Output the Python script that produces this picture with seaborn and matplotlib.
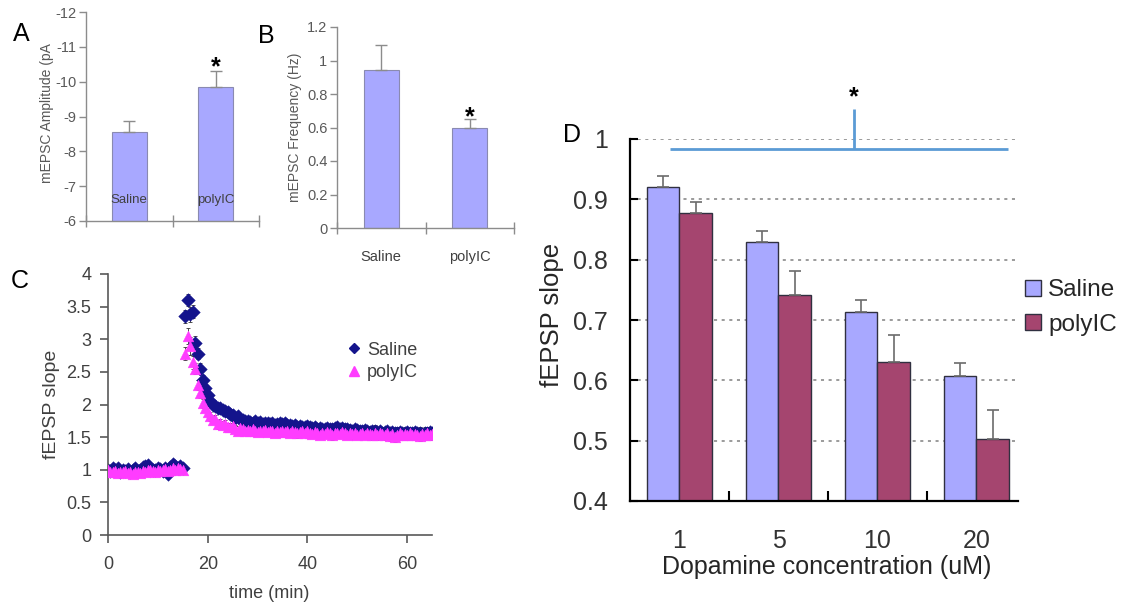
import numpy as np
import pandas as pd
import matplotlib
matplotlib.use("Agg")
import matplotlib.pyplot as plt
from matplotlib.patches import Patch
from matplotlib.lines import Line2D
import seaborn as sns

sns.set_theme(style="white")
plt.rcParams['font.family'] = ['Liberation Sans', 'DejaVu Sans']
plt.rcParams['axes.unicode_minus'] = False

# ---------------- data ----------------
# Panel A: mEPSC amplitude
a_groups = ["Saline", "polyIC"]
a_amp = [-8.55, -9.85]
a_err = [0.33, 0.45]

# Panel B: mEPSC frequency
b_groups = ["Saline", "polyIC"]
b_freq = [0.945, 0.60]
b_err = [0.15, 0.05]

# Panel C: fEPSP slope time course
c_time_base = [0, 0.5, 1, 1.5, 2, 2.5, 3, 3.5, 4, 4.5,
               5, 5.5, 6, 6.5, 7, 7.5, 8, 8.5, 9, 9.5,
               10, 10.5, 11, 11.5, 12, 12.5, 13, 13.5, 14, 14.5,
               15]
c_time_post = [15.5, 16, 16.5, 17, 17.5, 18, 18.5, 19, 19.5, 20,
               20.5, 21, 21.5, 22, 22.5, 23, 23.5, 24, 24.5, 25,
               25.5, 26, 26.5, 27, 27.5, 28, 28.5, 29, 29.5, 30,
               30.5, 31, 31.5, 32, 32.5, 33, 33.5, 34, 34.5, 35,
               35.5, 36, 36.5, 37, 37.5, 38, 38.5, 39, 39.5, 40,
               40.5, 41, 41.5, 42, 42.5, 43, 43.5, 44, 44.5, 45,
               45.5, 46, 46.5, 47, 47.5, 48, 48.5, 49, 49.5, 50,
               50.5, 51, 51.5, 52, 52.5, 53, 53.5, 54, 54.5, 55,
               55.5, 56, 56.5, 57, 57.5, 58, 58.5, 59, 59.5, 60,
               60.5, 61, 61.5, 62, 62.5, 63, 63.5, 64, 64.5, 65]

c_saline_base = [1.00, 0.98, 1.02, 0.99, 1.03, 0.97, 1.00, 0.98, 1.01, 0.97,
                 0.99, 1.02, 0.98, 1.00, 1.04, 1.06, 1.08, 1.03, 1.00, 0.99,
                 1.03, 1.01, 0.98, 1.02, 0.93, 1.04, 1.09, 1.06, 1.02, 1.05,
                 1.03]
c_saline_post = [3.35, 3.60, 3.38, 3.42, 2.95, 2.78, 2.55, 2.38, 2.25, 2.15,
                 2.06, 2.00, 1.97, 1.95, 1.94, 1.92, 1.90, 1.88, 1.86, 1.84,
                 1.80, 1.82, 1.78, 1.76, 1.74, 1.75, 1.73, 1.72, 1.74, 1.71,
                 1.73, 1.70, 1.71, 1.72, 1.70, 1.71, 1.69, 1.70, 1.72, 1.70,
                 1.71, 1.68, 1.69, 1.67, 1.68, 1.66, 1.67, 1.66, 1.65, 1.67,
                 1.65, 1.64, 1.65, 1.63, 1.64, 1.62, 1.63, 1.64, 1.62, 1.63,
                 1.64, 1.65, 1.63, 1.64, 1.62, 1.63, 1.61, 1.60, 1.62, 1.61,
                 1.60, 1.59, 1.61, 1.60, 1.58, 1.59, 1.60, 1.58, 1.59, 1.57,
                 1.58, 1.59, 1.57, 1.58, 1.56, 1.57, 1.58, 1.56, 1.57, 1.58,
                 1.56, 1.57, 1.58, 1.56, 1.57, 1.55, 1.57, 1.56, 1.58, 1.57]
c_polyic_base = [1.00, 0.97, 0.96, 0.98, 0.95, 0.97, 0.96, 0.98, 0.95, 0.97,
                 0.94, 0.97, 0.96, 0.95, 0.98, 0.97, 0.99, 1.00, 0.98, 0.97,
                 1.00, 0.98, 0.99, 1.01, 0.98, 0.99, 1.02, 1.00, 1.03, 1.01,
                 1.00]
c_polyic_post = [2.78, 3.05, 2.90, 2.65, 2.55, 2.30, 2.18, 2.02, 1.95, 1.88,
                 1.82, 1.76, 1.78, 1.70, 1.72, 1.68, 1.70, 1.66, 1.65, 1.67,
                 1.63, 1.60, 1.64, 1.62, 1.60, 1.61, 1.59, 1.62, 1.60, 1.58,
                 1.60, 1.59, 1.61, 1.58, 1.60, 1.59, 1.57, 1.60, 1.58, 1.59,
                 1.58, 1.60, 1.57, 1.59, 1.58, 1.56, 1.58, 1.60, 1.57, 1.59,
                 1.57, 1.55, 1.58, 1.56, 1.54, 1.57, 1.55, 1.58, 1.56, 1.53,
                 1.56, 1.57, 1.55, 1.58, 1.56, 1.54, 1.57, 1.55, 1.56, 1.54,
                 1.55, 1.57, 1.54, 1.56, 1.55, 1.53, 1.56, 1.54, 1.57, 1.55,
                 1.54, 1.56, 1.52, 1.55, 1.50, 1.54, 1.56, 1.53, 1.55, 1.54,
                 1.56, 1.53, 1.55, 1.54, 1.52, 1.55, 1.53, 1.56, 1.54, 1.55]

c_saline_err_base = [0.02, 0.03, 0.02, 0.02, 0.03, 0.02, 0.02, 0.03, 0.02, 0.02,
                     0.03, 0.02, 0.02, 0.03, 0.03, 0.02, 0.03, 0.02, 0.02, 0.03,
                     0.02, 0.02, 0.03, 0.02, 0.03, 0.02, 0.03, 0.02, 0.03, 0.02,
                     0.03]
c_saline_err_post = [0.10, 0.09, 0.12, 0.10, 0.10, 0.08, 0.08, 0.07, 0.07, 0.06,
                     0.06, 0.06, 0.05, 0.06, 0.05, 0.06, 0.05, 0.05, 0.06, 0.05,
                     0.06, 0.05, 0.06, 0.05, 0.06, 0.05, 0.06, 0.05, 0.05, 0.06,
                     0.05, 0.06, 0.05, 0.06, 0.05, 0.06, 0.05, 0.06, 0.05, 0.06,
                     0.06, 0.05, 0.06, 0.06, 0.05, 0.06, 0.06, 0.05, 0.06, 0.06,
                     0.06, 0.07, 0.06, 0.06, 0.07, 0.06, 0.07, 0.06, 0.07, 0.06,
                     0.07, 0.06, 0.07, 0.07, 0.06, 0.07, 0.07, 0.06, 0.07, 0.07,
                     0.07, 0.08, 0.07, 0.07, 0.08, 0.07, 0.08, 0.07, 0.07, 0.08,
                     0.08, 0.07, 0.08, 0.08, 0.07, 0.08, 0.08, 0.07, 0.08, 0.08,
                     0.08, 0.07, 0.08, 0.08, 0.09, 0.08, 0.08, 0.09, 0.08, 0.08]
c_polyic_err_base = [0.02, 0.02, 0.03, 0.02, 0.03, 0.02, 0.02, 0.03, 0.02, 0.03,
                     0.02, 0.03, 0.02, 0.02, 0.03, 0.02, 0.03, 0.02, 0.03, 0.02,
                     0.02, 0.03, 0.02, 0.03, 0.02, 0.02, 0.03, 0.02, 0.03, 0.02,
                     0.02]
c_polyic_err_post = [0.10, 0.12, 0.14, 0.10, 0.09, 0.08, 0.08, 0.07, 0.07, 0.06,
                     0.07, 0.06, 0.06, 0.07, 0.06, 0.06, 0.07, 0.06, 0.06, 0.07,
                     0.06, 0.07, 0.06, 0.06, 0.07, 0.06, 0.06, 0.07, 0.06, 0.06,
                     0.06, 0.06, 0.07, 0.06, 0.06, 0.07, 0.06, 0.06, 0.07, 0.06,
                     0.07, 0.06, 0.06, 0.07, 0.06, 0.07, 0.06, 0.07, 0.06, 0.07,
                     0.07, 0.07, 0.06, 0.07, 0.07, 0.06, 0.07, 0.07, 0.06, 0.07,
                     0.07, 0.06, 0.07, 0.07, 0.08, 0.07, 0.07, 0.08, 0.07, 0.07,
                     0.08, 0.07, 0.07, 0.08, 0.07, 0.08, 0.07, 0.08, 0.07, 0.08,
                     0.08, 0.07, 0.08, 0.08, 0.07, 0.08, 0.08, 0.07, 0.08, 0.08,
                     0.08, 0.08, 0.07, 0.08, 0.08, 0.07, 0.08, 0.08, 0.08, 0.08]

# Panel D: dopamine dose response
d_conc = ["1", "5", "10", "20"]
d_saline = [0.921, 0.829, 0.713, 0.608]
d_saline_err = [0.017, 0.018, 0.020, 0.020]
d_polyic = [0.877, 0.741, 0.631, 0.503]
d_polyic_err = [0.018, 0.040, 0.044, 0.047]

# ---------------- style ----------------
LAV = "#A8A8FF"
MAR = "#A5456F"
NAVY = "#14148C"
MAG = "#FF3CFF"
W, H = 1125, 608


def rect(l, t, r, b):
    return [l / W, 1 - b / H, (r - l) / W, (b - t) / H]


def fig_xy(x, y):
    return x / W, 1 - y / H


fig = plt.figure(figsize=(11.25, 6.08), dpi=100)


def star(ax, x, y, fs=18):
    ax.annotate("*", xy=(x, y), xytext=(0, -0.55 * fs), textcoords="offset points",
                ha="center", va="baseline", fontsize=fs, fontweight="bold",
                color="black", annotation_clip=False)


def small_bar_axes(ax, ylabel, ylab_x, ylab_y, ax_rect_px):
    for s in ["top", "right"]:
        ax.spines[s].set_visible(False)
    for s in ["left", "bottom"]:
        ax.spines[s].set_color("#8c8c8c")
        ax.spines[s].set_linewidth(1.0)
    ax.tick_params(axis="y", direction="out", length=5, width=1, color="#8c8c8c",
                   labelsize=10.5, labelcolor="#595959", pad=2, left=True)
    ax.set_xticks([-0.5, 0.5, 1.5], minor=True)
    ax.tick_params(axis="x", which="minor", direction="inout", length=8, width=1,
                   color="#8c8c8c", bottom=True)
    ax.set_xlabel("")
    l, t, r, b = ax_rect_px
    ax.set_ylabel(ylabel, fontsize=10, color="#595959", va="center")
    ax.yaxis.set_label_coords((ylab_x - l) / (r - l), (b - ylab_y) / (b - t))


# ---------------- Panel A ----------------
pA = (86, 12, 259, 221)
axA = fig.add_axes(rect(*pA))
dfA = pd.DataFrame({"group": a_groups, "value": a_amp})
sns.barplot(data=dfA, x="group", y="value", order=a_groups, color=LAV, saturation=1,
            width=0.4, edgecolor="#8a8ab0", linewidth=0.8, errorbar=None, ax=axA)
axA.errorbar(range(len(a_amp)), a_amp, yerr=[a_err, [0] * len(a_err)], fmt="none",
             ecolor="#8c8c8c", elinewidth=1, capsize=4, capthick=1)
axA.set_ylim(-6, -12)
axA.set_yticks([-12, -11, -10, -9, -8, -7, -6])
axA.set_xlim(-0.5, 1.5)
axA.set_xticks([])
small_bar_axes(axA, "mEPSC Amplitude (pA", 47, 113, pA)
for i, g in enumerate(a_groups):
    axA.text(i, -6.6, g, ha="center", va="center", fontsize=9.5, color="#404040")
star(axA, 1, -10.62)
fig.text(*fig_xy(21, 34), "A", fontsize=18, ha="center", va="center", color="black")

# ---------------- Panel B ----------------
pB = (337, 27, 514, 228)
axB = fig.add_axes(rect(*pB))
dfB = pd.DataFrame({"group": b_groups, "value": b_freq})
sns.barplot(data=dfB, x="group", y="value", order=b_groups, color=LAV, saturation=1,
            width=0.4, edgecolor="#8a8ab0", linewidth=0.8, errorbar=None, ax=axB)
axB.errorbar(range(len(b_freq)), b_freq, yerr=[[0] * len(b_err), b_err], fmt="none",
             ecolor="#8c8c8c", elinewidth=1, capsize=4, capthick=1)
axB.set_ylim(0, 1.2)
axB.set_yticks([0, 0.2, 0.4, 0.6, 0.8, 1.0, 1.2])
axB.set_yticklabels(["0", "0.2", "0.4", "0.6", "0.8", "1", "1.2"])
axB.set_xlim(-0.5, 1.5)
axB.set_xticks([0, 1])
axB.set_xticklabels(b_groups)
axB.tick_params(axis="x", which="major", length=0, pad=16, labelsize=10.5,
                labelcolor="#404040")
small_bar_axes(axB, "mEPSC Frequency (Hz)", 295, 127, pB)
star(axB, 1, 0.70)
fig.text(*fig_xy(266, 36), "B", fontsize=18, ha="center", va="center", color="black")

# ---------------- Panel C ----------------
pC = (108, 274, 432, 535)
axC = fig.add_axes(rect(*pC))
c_time = c_time_base + c_time_post
dfC = pd.DataFrame({
    "time": c_time + c_time,
    "slope": c_saline_base + c_saline_post + c_polyic_base + c_polyic_post,
    "err": c_saline_err_base + c_saline_err_post + c_polyic_err_base + c_polyic_err_post,
    "group": ["Saline"] * len(c_time) + ["polyIC"] * len(c_time),
})
for g in ["Saline", "polyIC"]:
    sub = dfC[dfC["group"] == g]
    axC.errorbar(sub["time"], sub["slope"], yerr=sub["err"], fmt="none",
                 ecolor="#333333", elinewidth=0.6, capsize=1.5, capthick=0.6, zorder=1)
sns.scatterplot(data=dfC[dfC["group"] == "Saline"], x="time", y="slope", marker="D",
                s=48, color=NAVY, edgecolor=NAVY, linewidth=0.3, ax=axC, zorder=2,
                legend=False)
sns.scatterplot(data=dfC[dfC["group"] == "polyIC"], x="time", y="slope", marker="^",
                s=60, color=MAG, edgecolor=MAG, linewidth=0.3, ax=axC, zorder=3,
                legend=False)
axC.set_xlim(0, 65)
axC.set_ylim(0, 4)
axC.set_xticks([0, 20, 40, 60])
axC.set_yticks([0, 0.5, 1, 1.5, 2, 2.5, 3, 3.5, 4])
axC.set_yticklabels(["0", "0.5", "1", "1.5", "2", "2.5", "3", "3.5", "4"])
for s in ["top", "right"]:
    axC.spines[s].set_visible(False)
for s in ["left", "bottom"]:
    axC.spines[s].set_color("#595959")
    axC.spines[s].set_linewidth(1.2)
axC.tick_params(axis="both", direction="out", length=6, width=1.2, color="#595959",
                labelsize=13, labelcolor="#404040", left=True, bottom=True)
axC.tick_params(axis="y", pad=6)
axC.tick_params(axis="x", pad=9)
axC.set_xlabel("time (min)", fontsize=13, color="#404040")
axC.xaxis.set_label_coords((269 - 108) / 324, (535 - 593) / 261)
axC.xaxis.label.set_va("center")
axC.set_ylabel("fEPSP slope", fontsize=14, color="#404040", va="center")
axC.yaxis.set_label_coords((52 - 108) / 324, (535 - 404) / 261)
handlesC = [Line2D([], [], marker="D", linestyle="none", color=NAVY, markersize=5.5),
            Line2D([], [], marker="^", linestyle="none", color=MAG, markersize=7)]
fig.legend(handlesC, ["Saline", "polyIC"], loc="center left",
           bbox_to_anchor=fig_xy(347, 361.5), frameon=False, fontsize=13,
           handlelength=0.8, handletextpad=0.3, labelspacing=0.3, borderpad=0,
           borderaxespad=0, labelcolor="#404040")
fig.text(*fig_xy(20, 281), "C", fontsize=18, ha="center", va="center", color="black")

# ---------------- Panel D ----------------
pD = (630, 139, 1018, 501)
axD = fig.add_axes(rect(*pD))
dfD = pd.DataFrame({
    "conc": d_conc + d_conc,
    "value": d_saline + d_polyic,
    "err": d_saline_err + d_polyic_err,
    "group": ["Saline"] * len(d_conc) + ["polyIC"] * len(d_conc),
})
for yv in [0.5, 0.6, 0.7, 0.8, 0.9, 1.0]:
    axD.axhline(yv, color="#808080", linestyle=(0, (2, 3)), linewidth=1.1, zorder=0)
sns.barplot(data=dfD, x="conc", y="value", hue="group", order=d_conc,
            hue_order=["Saline", "polyIC"], palette={"Saline": LAV, "polyIC": MAR},
            saturation=1, width=0.66, gap=0, edgecolor="#303040", linewidth=1.0,
            errorbar=None, legend=False, ax=axD, zorder=2)
offs = {"Saline": -0.165, "polyIC": 0.165}
for g in ["Saline", "polyIC"]:
    sub = dfD[dfD["group"] == g]
    xs = np.arange(len(sub)) + offs[g]
    axD.errorbar(xs, sub["value"], yerr=[np.zeros(len(sub)), sub["err"]], fmt="none",
                 ecolor="#6b6b6b", elinewidth=1.2, capsize=4, capthick=1.2, zorder=3)
axD.set_ylim(0.4, 1.0)
axD.set_xlim(-0.5, 3.42)
axD.set_yticks([0.4, 0.5, 0.6, 0.7, 0.8, 0.9, 1.0])
axD.set_yticklabels(["0.4", "0.5", "0.6", "0.7", "0.8", "0.9", "1"])
axD.set_xticks(range(len(d_conc)))
axD.set_xticklabels(d_conc)
axD.set_xticks([0.5, 1.5, 2.5], minor=True)
for s in ["top", "right"]:
    axD.spines[s].set_visible(False)
for s in ["left", "bottom"]:
    axD.spines[s].set_color("black")
    axD.spines[s].set_linewidth(1.6)
axD.tick_params(axis="y", direction="in", length=6, width=1.5, color="black",
                labelsize=18, labelcolor="#333333", pad=16, left=True)
axD.tick_params(axis="x", which="major", length=0, labelsize=18, labelcolor="#333333",
                pad=20)
axD.tick_params(axis="x", which="minor", direction="in", length=7, width=1.5,
                color="black", bottom=True)
axD.set_xlabel("Dopamine concentration (uM)", fontsize=18, color="#262626", va="center")
axD.xaxis.set_label_coords((827 - 630) / 388, (501 - 567) / 362)
axD.set_ylabel("fEPSP slope", fontsize=18.5, color="#262626", va="center")
axD.yaxis.set_label_coords((552 - 630) / 388, (501 - 315) / 362)
# significance bracket
axD.plot([-0.096, 3.318], [0.983, 0.983], color="#5B9BD5", linewidth=2, clip_on=False,
         zorder=4, solid_capstyle="butt")
axD.plot([1.763, 1.763], [0.983, 1.05], color="#5B9BD5", linewidth=2, clip_on=False,
         zorder=4, solid_capstyle="butt")
star(axD, 1.763, 1.081, fs=18)
handlesD = [Patch(facecolor=LAV, edgecolor="#303040", linewidth=1),
            Patch(facecolor=MAR, edgecolor="#303040", linewidth=1)]
fig.legend(handlesD, ["Saline", "polyIC"], loc="center left",
           bbox_to_anchor=fig_xy(1025, 307.5), frameon=False, fontsize=17.5,
           handlelength=0.65, handleheight=0.65, handletextpad=0.3, labelspacing=0.5,
           borderpad=0, borderaxespad=0, labelcolor="#262626")
fig.text(*fig_xy(572, 135), "D", fontsize=18, ha="center", va="center", color="black")

fig.savefig("out.png", dpi=100)
